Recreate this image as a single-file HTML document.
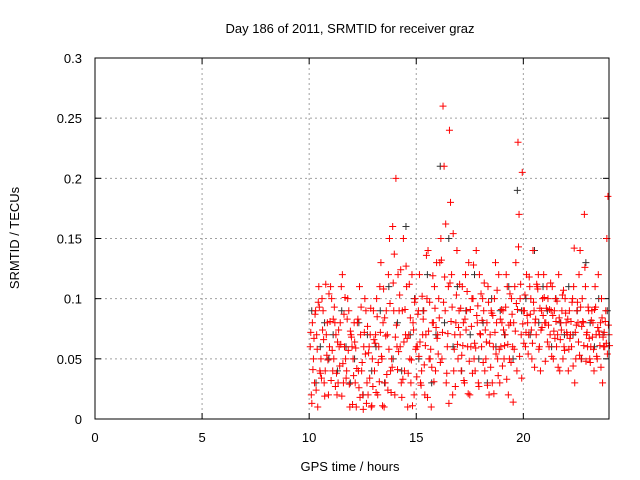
<!DOCTYPE html>
<html><head><meta charset="utf-8"><style>
body{margin:0;background:#fff}
svg{display:block;font-family:"Liberation Sans",sans-serif;font-size:13px}
</style></head><body>
<svg id="c" width="640" height="480">
<rect width="640" height="480" fill="#fff"/>
<text x="350" y="33" text-anchor="middle">Day 186 of 2011, SRMTID for receiver graz</text>
<text x="350" y="471" text-anchor="middle">GPS time / hours</text>
<text transform="translate(19,238) rotate(-90)" text-anchor="middle">SRMTID / TECUs</text>
<g id="grid"></g><g id="ticks"></g><g id="marks"></g>
<rect x="95" y="58" width="514" height="361" fill="none" stroke="#000"/>
</svg>
<script>
const xTicks=[0,5,10,15,20];
const yTicks=[0,0.05,0.1,0.15,0.2,0.25,0.3];
const yTickLabels=["0","0.05","0.1","0.15","0.2","0.25","0.3"];
const redA=[.06,.08,.03,.07,.11,.05,.09,.04,.08,.06,.10,.05,.07,.03,.08,.12,.06,.04,.09,.07,.05,.03,.08,.11,.04,.06,.09,.02,.07,.05,.04,.10,.06,.13,.08,.03,.07,.15,.05,.09,.20,.12,.06,.09,.04,.11,.07,.03,.08,.10,.06,.12,.04,.09,.07,.14,.05,.08,.11,.13,.10,.15,.26,.09,.06,.24,.12,.04,.08,.05,.07,.11,.03,.09,.13,.06,.10,.04,.08,.12,.06,.09,.05,.11,.07,.03,.10,.08,.12,.06,.09,.07,.11,.05,.10,.08,.13,.23,.10,.205,.09,.12,.07,.10,.14,.08,.11,.06,.09,.12,.08,.10,.07,.11,.09,.06,.12,.08,.05,.10,.07,.09,.06,.11,.05,.08,.14,.10,.17,.07,.09,.06,.08,.11,.05,.07,.10,.06,.09,.185];
const redB=[.02,.05,.09,.01,.04,.10,.03,.07,.02,.11,.04,.08,.02,.06,.11,.03,.05,.10,.01,.06,.08,.01,.04,.07,.02,.10,.03,.06,.01,.09,.07,.02,.11,.05,.01,.09,.12,.04,.16,.02,.06,.09,.03,.15,.07,.01,.05,.12,.02,.06,.09,.03,.07,.02,.10,.05,.01,.08,.04,.07,.13,.05,.21,.03,.11,.18,.02,.07,.14,.09,.04,.08,.12,.06,.02,.10,.05,.14,.03,.07,.10,.04,.08,.02,.09,.06,.13,.05,.03,.08,.05,.12,.02,.08,.06,.11,.04,.17,.07,.09,.06,.08,.11,.05,.09,.07,.12,.04,.10,.08,.11,.06,.09,.05,.10,.07,.04,.09,.06,.08,.04,.07,.10,.03,.09,.12,.05,.08,.11,.06,.05,.09,.04,.07,.12,.08,.03,.06,.15,.07];
const redC=[.072,.041,.087,.058,.093,.034,.066,.112,.049,.081,.057,.093,.038,.074,.062,.046,.101,.083,.029,.068,.036,.059,.083,.018,.047,.072,.013,.055,.092,.027,.063,.085,.031,.052,.108,.069,.024,.096,.043,.137,.078,.056,.124,.033,.091,.067,.112,.049,.074,.058,.087,.064,.102,.045,.136,.073,.058,.119,.092,.067,.084,.132,.097,.162,.071,.113,.093,.058,.103,.076,.092,.061,.083,.106,.048,.077,.128,.059,.094,.071,.082,.113,.064,.097,.043,.086,.072,.107,.058,.091,.074,.093,.062,.104,.087,.058,.096,.143,.112,.079,.103,.086,.118,.074,.097,.083,.108,.092,.076,.101,.092,.078,.113,.086,.067,.098,.084,.074,.107,.088,.083,.067,.097,.142,.078,.064,.093,.081,.126,.072,.067,.082,.058,.093,.076,.061,.084,.072,.063,.078];
const redD=[.013,.067,.024,.097,.038,.074,.019,.053,.104,.032,.083,.027,.064,.044,.019,.087,.034,.057,.073,.012,.064,.042,.026,.093,.008,.054,.077,.034,.011,.066,.022,.047,.072,.011,.084,.037,.058,.022,.113,.068,.041,.103,.018,.064,.127,.038,.084,.011,.097,.035,.052,.028,.083,.061,.018,.097,.043,.031,.076,.054,.047,.072,.118,.038,.013,.081,.154,.027,.062,.112,.053,.032,.074,.021,.091,.038,.063,.086,.027,.104,.047,.074,.028,.063,.088,.021,.054,.036,.083,.044,.061,.033,.078,.047,.014,.073,.091,.052,.034,.063,.072,.054,.087,.063,.043,.112,.058,.074,.086,.048,.064,.091,.052,.073,.081,.043,.066,.103,.057,.072,.058,.081,.044,.072,.097,.053,.077,.061,.048,.093,.047,.068,.091,.052,.073,.043,.068,.081,.054,.061];
const dark=[.09,.03,.06,.08,.05,.07,.04,.09,.06,.03,.05,.08,.02,.07,.04,.06,.09,.03,.11,.05,.08,.04,.16,.07,.10,.05,.09,.12,.03,.07,.21,.08,.15,.06,.11,.04,.09,.07,.12,.05,.08,.03,.10,.06,.09,.07,.11,.05,.19,.09,.10,.07,.14,.08,.11,.09,.06,.10,.08,.07,.11,.07,.09,.05,.13,.08,.06,.10,.07,.09];
const startHour=10.05;
const NS="http://www.w3.org/2000/svg";
const X=t=>95+t*514/24, Y=v=>419-v*361/0.3;
function mk(tag,a,p){const e=document.createElementNS(NS,tag);for(const k in a)e.setAttribute(k,a[k]);p.appendChild(e);return e;}
const grid=document.getElementById('grid'),ticks=document.getElementById('ticks'),marks=document.getElementById('marks');
xTicks.forEach(t=>{const x=X(t);
 if(t>0){const g=mk('line',{x1:x,x2:x,y1:58,y2:419,stroke:'#a0a0a0','stroke-dasharray':'2,3'},grid);
 
 }
 mk('line',{x1:x,x2:x,y1:419,y2:413,stroke:'#000'},ticks);mk('line',{x1:x,x2:x,y1:58,y2:64,stroke:'#000'},ticks);
 const l=mk('text',{x:x,y:442,'text-anchor':'middle'},ticks);l.textContent=t;
 
 });
yTicks.forEach((v,i)=>{const y=Y(v);
 if(i>0&&i<yTicks.length-1){const g=mk('line',{x1:95,x2:609,y1:y,y2:y,stroke:'#a0a0a0','stroke-dasharray':'2,3'},grid);
 
 }
 mk('line',{x1:95,x2:101,y1:y,y2:y,stroke:'#000'},ticks);mk('line',{x1:609,x2:603,y1:y,y2:y,stroke:'#000'},ticks);
 const l=mk('text',{x:82,y:y+5,'text-anchor':'end'},ticks);l.textContent=yTickLabels[i];
 
 });
function plus(t,v,c,name){const x=X(t),y=Y(v);
 const p=mk('path',{d:`M${x-3.5},${y}h7M${x},${y-3.5}v7`,stroke:c,'stroke-width':1,fill:'none'},marks);
 
 }
dark.forEach((v,i)=>plus(startHour+i*0.2+0.07,v,'#333','point-dark'));
redA.forEach((v,i)=>plus(startHour+i*0.1,v,'#ff0000','point-red'));
redB.forEach((v,i)=>plus(startHour+i*0.1+0.05,v,'#ff0000','point-red'));
redC.forEach((v,i)=>plus(startHour+i*0.1+0.025,v,'#ff0000','point-red'));
redD.forEach((v,i)=>plus(startHour+i*0.1+0.075,v,'#ff0000','point-red'));
</script>
</body></html>
